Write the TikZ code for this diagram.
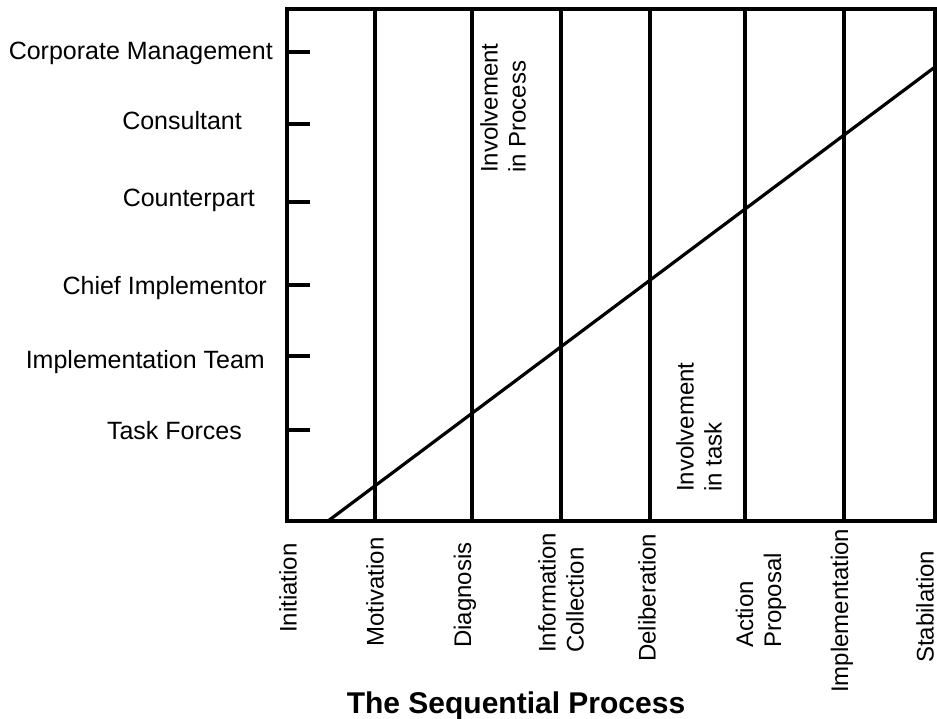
\documentclass[tikz,border=0pt]{standalone}
\usepackage{fontspec}
\setmainfont{Liberation Sans}

\begin{document}
\begin{tikzpicture}[x=1pt,y=-1pt]
  \tikzstyle{frame}=[line width=3.2pt]
  \tikzstyle{divider}=[line width=3.6pt]
  \tikzstyle{role}=[anchor=base east,inner sep=0pt,font=\fontsize{25}{29}\selectfont]
  \tikzstyle{stage}=[rotate=90,anchor=west,align=left,inner sep=0pt,font=\fontsize{24}{28}\selectfont]
  \useasboundingbox (0,0) rectangle (937,719);
  \coordinate (tl) at (287,9);
  \coordinate (br) at (935,521);
  \draw[frame] (tl) rectangle (br);
  \foreach \x in {375,472,561,650,745,844}
    \draw[divider] (\x,9) -- (\x,521);
  \coordinate (lo) at (328,521);
  \coordinate (hi) at (935,67);
  \draw[frame] (lo) -- (hi);
  \foreach \y/\b/\e/\t in {52/60/273/Corporate Management,124/130/242/Consultant,
      202/207/255/Counterpart,285/295/267/Chief Implementor,
      356/368/265/Implementation Team,430/439/242/Task Forces} {
    \coordinate (tick\y) at (287,\y);
    \draw[frame] (tick\y) -- ++(23,0);
    \node[role] (role\y) at (\e,\b) {\t};
  }
  \node[stage] (initiation) at (288,633) {Initiation};
  \node[stage] (motivation) at (375,647) {Motivation};
  \node[stage] (diagnosis) at (465,648) {Diagnosis};
  \node[stage] (information) at (561,653) {Information\\Collection};
  \node[stage] (deliberation) at (647,662) {Deliberation};
  \node[stage] (action) at (761,648) {Action\\Proposal};
  \node[stage] (implementation) at (842,693) {Implementation};
  \node[stage] (stabilation) at (925,663) {Stabilation};
  \node[stage] (inprocess) at (503,173) {Involvement\\in Process};
  \node[stage] (intask) at (699,492) {Involvement\\in task};
  \node[anchor=base,inner sep=0pt,font=\fontsize{30}{35}\selectfont\bfseries] (title) at (516,713) {The Sequential Process};
\end{tikzpicture}
\end{document}
